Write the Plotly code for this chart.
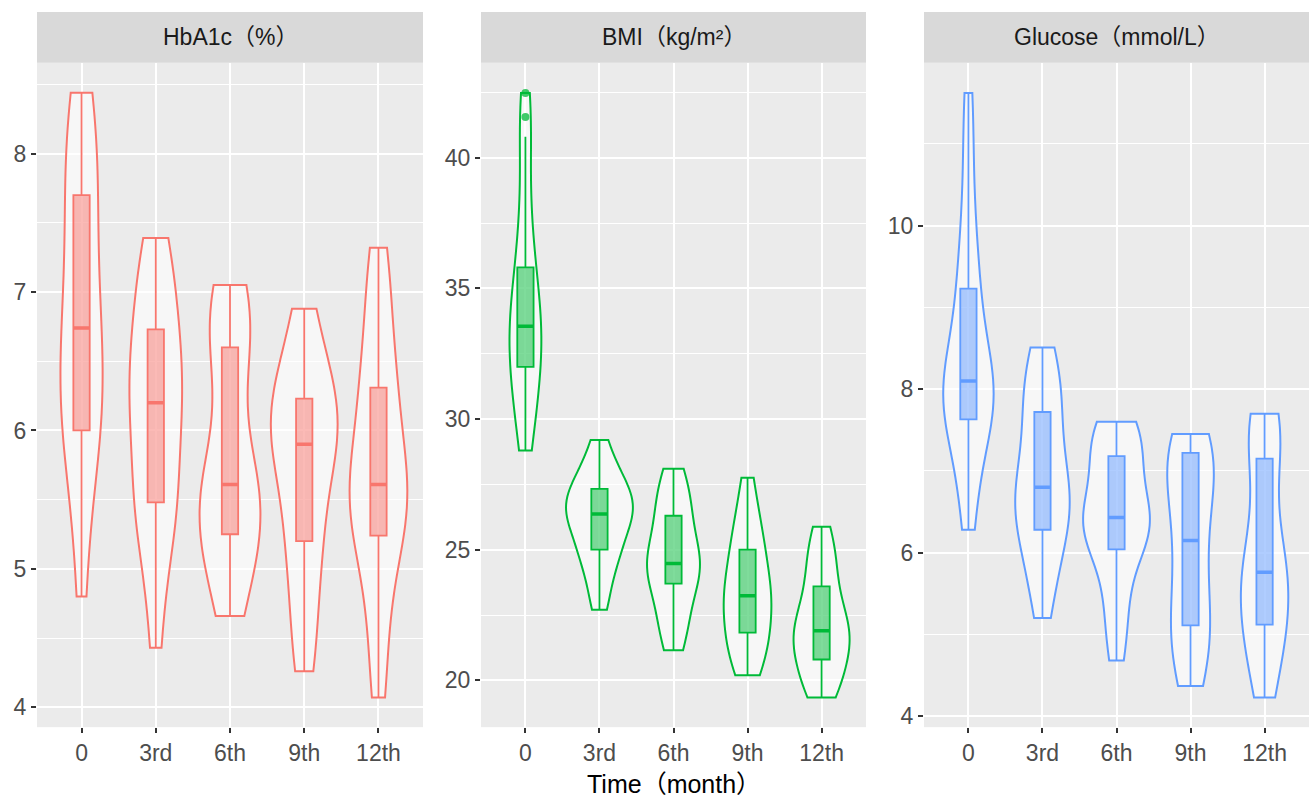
import numpy as np
import plotly.graph_objects as go

categories = ["0", "3rd", "6th", "9th", "12th"]
panel_titles = ["HbA1c（%）", "BMI（kg/m²）", "Glucose（mmol/L）"]
colors = ["#F8766D", "#00BA38", "#619CFF"]

# Estimated individual values per time point (read from violin shapes)
hba1c = {
    "0":    [4.80, 5.35, 5.70, 5.95, 6.00, 6.10, 6.25, 6.35, 6.50, 6.70, 6.78, 6.95, 7.15, 7.40, 7.65, 7.75, 7.95, 8.15, 8.30, 8.44],
    "3rd":  [4.43, 4.90, 5.20, 5.35, 5.45, 5.50, 5.65, 5.85, 6.00, 6.15, 6.25, 6.30, 6.40, 6.50, 6.65, 6.80, 6.95, 7.10, 7.25, 7.39],
    "6th":  [4.66, 4.80, 4.95, 5.10, 5.20, 5.30, 5.35, 5.45, 5.55, 5.60, 5.62, 5.75, 6.00, 6.35, 6.55, 6.65, 6.80, 6.90, 7.00, 7.05],
    "9th":  [4.26, 4.45, 4.70, 4.95, 5.15, 5.25, 5.40, 5.60, 5.75, 5.85, 5.95, 6.00, 6.05, 6.10, 6.20, 6.25, 6.35, 6.50, 6.70, 6.88],
    "12th": [4.07, 4.40, 4.75, 5.00, 5.15, 5.30, 5.40, 5.50, 5.55, 5.60, 5.62, 5.80, 6.00, 6.15, 6.25, 6.40, 6.60, 6.85, 7.10, 7.32],
}
bmi = {
    "0":    [28.8, 29.6, 30.3, 30.9, 31.4, 31.9, 32.3, 32.7, 33.1, 33.5, 33.6, 34.1, 34.6, 35.2, 35.8, 36.5, 37.6, 39.0, 40.8, 41.56, 42.48],
    "3rd":  [22.7, 23.4, 24.1, 24.6, 24.9, 25.1, 25.5, 25.9, 26.1, 26.3, 26.45, 26.6, 26.8, 27.0, 27.2, 27.45, 27.7, 28.0, 28.5, 29.2],
    "6th":  [21.15, 21.6, 22.1, 22.6, 23.0, 23.5, 23.85, 24.15, 24.35, 24.45, 24.5, 24.8, 25.2, 25.6, 26.0, 26.4, 26.8, 27.2, 27.6, 28.1],
    "9th":  [20.2, 20.55, 20.9, 21.25, 21.6, 21.9, 22.25, 22.6, 22.9, 23.15, 23.35, 23.65, 24.0, 24.4, 24.8, 25.2, 25.6, 26.1, 26.8, 27.75],
    "12th": [19.35, 19.6, 19.9, 20.2, 20.6, 21.0, 21.2, 21.4, 21.6, 21.8, 22.0, 22.3, 22.6, 22.9, 23.3, 23.9, 24.3, 24.8, 25.3, 25.88],
}
glucose = {
    "0":    [6.28, 6.7, 7.1, 7.4, 7.6, 7.66, 7.8, 7.9, 8.0, 8.07, 8.13, 8.3, 8.5, 8.8, 9.1, 9.35, 9.7, 10.2, 10.9, 11.62],
    "3rd":  [5.20, 5.55, 5.80, 6.00, 6.20, 6.35, 6.45, 6.55, 6.65, 6.75, 6.85, 7.00, 7.20, 7.40, 7.65, 7.80, 7.95, 8.15, 8.35, 8.51],
    "6th":  [4.68, 5.05, 5.35, 5.65, 5.95, 6.12, 6.20, 6.28, 6.35, 6.40, 6.46, 6.55, 6.70, 6.90, 7.10, 7.25, 7.35, 7.45, 7.55, 7.60],
    "9th":  [4.37, 4.50, 4.70, 4.90, 5.05, 5.17, 5.35, 5.55, 5.80, 6.05, 6.25, 6.45, 6.65, 6.85, 7.00, 7.12, 7.22, 7.30, 7.38, 7.45],
    "12th": [4.23, 4.45, 4.70, 4.90, 5.05, 5.20, 5.35, 5.50, 5.62, 5.72, 5.80, 5.95, 6.20, 6.50, 6.95, 7.35, 7.45, 7.55, 7.62, 7.70],
}

# Box statistics
hba1c_q1 = [6.00, 5.48, 5.25, 5.20, 5.24]
hba1c_med = [6.74, 6.20, 5.61, 5.90, 5.61]
hba1c_q3 = [7.70, 6.73, 6.60, 6.23, 6.31]
hba1c_lo = [4.80, 4.43, 4.66, 4.26, 4.07]
hba1c_hi = [8.44, 7.39, 7.05, 6.88, 7.32]

bmi_q1 = [32.0, 25.0, 23.7, 21.83, 20.8]
bmi_med = [33.55, 26.37, 24.47, 23.24, 21.9]
bmi_q3 = [35.8, 27.33, 26.3, 25.0, 23.6]
bmi_lo = [28.8, 22.7, 21.15, 20.2, 19.35]
bmi_hi = [40.8, 29.2, 28.1, 27.75, 25.88]
bmi_outlier_x = ["0", "0"]
bmi_outlier_y = [41.56, 42.48]

glu_q1 = [7.63, 6.28, 6.04, 5.11, 5.12]
glu_med = [8.10, 6.80, 6.43, 6.15, 5.76]
glu_q3 = [9.23, 7.72, 7.18, 7.22, 7.15]
glu_lo = [6.28, 5.20, 4.68, 4.37, 4.23]
glu_hi = [11.62, 8.51, 7.60, 7.45, 7.70]

y_ranges = [[3.856, 8.656], [18.21, 43.63], [3.866, 11.99]]
y_dticks = [1, 5, 2]

W, H = 1309, 800
panel_px = [(37, 423), (481, 866), (924, 1309)]
panel_top, panel_bot = 63, 729
strip_top = 12

FONT = "Liberation Sans, Arial, Noto Sans CJK SC, sans-serif"
TICK_SIZE = 23


def rgba(hexc, a):
    h = hexc.lstrip("#")
    r, g, b = int(h[0:2], 16), int(h[2:4], 16), int(h[4:6], 16)
    return f"rgba({r},{g},{b},{a})"


def nrd0(vals):
    v = np.asarray(vals, dtype=float)
    sd = v.std(ddof=1)
    iqr = np.subtract(*np.percentile(v, [75, 25]))
    lo = min(sd, iqr / 1.34) if iqr > 0 else sd
    return 0.9 * lo * len(v) ** -0.2


def max_density(vals, bw):
    v = np.asarray(vals, dtype=float)
    g = np.linspace(v.min(), v.max(), 512)
    z = (g[:, None] - v[None, :]) / bw
    d = np.exp(-0.5 * z ** 2).sum(axis=1) / (len(v) * bw * np.sqrt(2 * np.pi))
    return d.max()


fig = go.Figure()

datasets = [hba1c, bmi, glucose]
stats = [
    (hba1c_q1, hba1c_med, hba1c_q3, hba1c_lo, hba1c_hi),
    (bmi_q1, bmi_med, bmi_q3, bmi_lo, bmi_hi),
    (glu_q1, glu_med, glu_q3, glu_lo, glu_hi),
]
for i in range(3):
    xa = "x" if i == 0 else f"x{i+1}"
    ya = "y" if i == 0 else f"y{i+1}"
    col = colors[i]
    data = datasets[i]
    bws = {c: nrd0(data[c]) for c in categories}
    peaks = {c: max_density(data[c], bws[c]) for c in categories}
    top = max(peaks.values())
    for c in categories:
        # area scaling within a panel (like ggplot's scale = "area")
        fig.add_trace(go.Violin(
            x=[c] * len(data[c]), y=data[c], xaxis=xa, yaxis=ya,
            width=0.9 * peaks[c] / top, spanmode="hard", scalemode="width",
            bandwidth=bws[c],
            points=False, fillcolor="rgba(255,255,255,0.6)",
            line=dict(color=col, width=2),
            box_visible=False, meanline_visible=False,
            showlegend=False, hoverinfo="skip",
        ))
    q1, med, q3, lo, hi = stats[i]
    fig.add_trace(go.Box(
        x=categories, q1=q1, median=med, q3=q3, lowerfence=lo, upperfence=hi,
        xaxis=xa, yaxis=ya, width=0.22, whiskerwidth=0,
        fillcolor=rgba(col, 0.5), line=dict(color=col, width=1.8),
        boxpoints=False, showlegend=False, hoverinfo="skip",
    ))
    # thicker median line
    fig.add_trace(go.Box(
        x=categories, q1=med, median=med, q3=med, lowerfence=med, upperfence=med,
        xaxis=xa, yaxis=ya, width=0.22, whiskerwidth=0,
        fillcolor=col, line=dict(color=col, width=3.5),
        boxpoints=False, showlegend=False, hoverinfo="skip",
    ))

fig.add_trace(go.Scatter(
    x=bmi_outlier_x, y=bmi_outlier_y, xaxis="x2", yaxis="y2", mode="markers",
    marker=dict(color=rgba(colors[1], 0.75), size=8, line=dict(width=0)),
    showlegend=False, hoverinfo="skip",
))

layout = dict(
    width=W, height=H, margin=dict(l=0, r=0, t=0, b=0),
    paper_bgcolor="white", plot_bgcolor="#EBEBEB",
    font=dict(family=FONT, color="#4D4D4D", size=TICK_SIZE),
    boxmode="overlay", violinmode="overlay",
    shapes=[], annotations=[],
)

ydom = [1 - panel_bot / H, 1 - panel_top / H]
for i in range(3):
    x0, x1 = panel_px[i]
    xdom = [x0 / W, x1 / W]
    sfx = "" if i == 0 else str(i + 1)
    layout["xaxis" + sfx] = dict(
        domain=xdom, anchor="y" + sfx, type="category",
        categoryorder="array", categoryarray=categories,
        range=[-0.6, 4.6], showgrid=True, gridcolor="white", gridwidth=1.6,
        zeroline=False, showline=False, ticks="outside", ticklen=5,
        tickcolor="#333333", tickwidth=1.5,
        tickfont=dict(size=TICK_SIZE, color="#4D4D4D", family=FONT),
        fixedrange=True,
    )
    layout["yaxis" + sfx] = dict(
        domain=ydom, anchor="x" + sfx, range=y_ranges[i], dtick=y_dticks[i],
        showgrid=True, gridcolor="white", gridwidth=1.6, zeroline=False,
        showline=False, ticks="outside", ticklen=5, tickcolor="#333333",
        tickwidth=1.5, tickfont=dict(size=TICK_SIZE, color="#4D4D4D", family=FONT),
        minor=dict(dtick=y_dticks[i] / 2, showgrid=True, gridcolor="white",
                   gridwidth=0.8, ticks=""),
        fixedrange=True,
    )
    layout["shapes"].append(dict(
        type="rect", xref="paper", yref="paper",
        x0=xdom[0], x1=xdom[1], y0=ydom[1], y1=1 - strip_top / H,
        fillcolor="#D9D9D9", line=dict(width=0), layer="below",
    ))
    layout["annotations"].append(dict(
        text=panel_titles[i], xref="paper", yref="paper",
        x=(xdom[0] + xdom[1]) / 2, y=1 - (strip_top + panel_top) / 2 / H,
        xanchor="center", yanchor="middle", showarrow=False,
        font=dict(size=TICK_SIZE, color="#1A1A1A", family=FONT),
    ))

layout["annotations"].append(dict(
    text="Time（month）", xref="paper", yref="paper",
    x=((panel_px[1][0] + panel_px[1][1]) / 2) / W, y=1 - 786 / H,
    xanchor="center", yanchor="middle", showarrow=False,
    font=dict(size=25, color="#000000", family=FONT),
))

fig.update_layout(**layout)
fig.write_html(
    "out.html",
    config={"displayModeBar": False},
    post_script="document.body.style.margin='0';document.body.style.overflow='hidden';",
)
